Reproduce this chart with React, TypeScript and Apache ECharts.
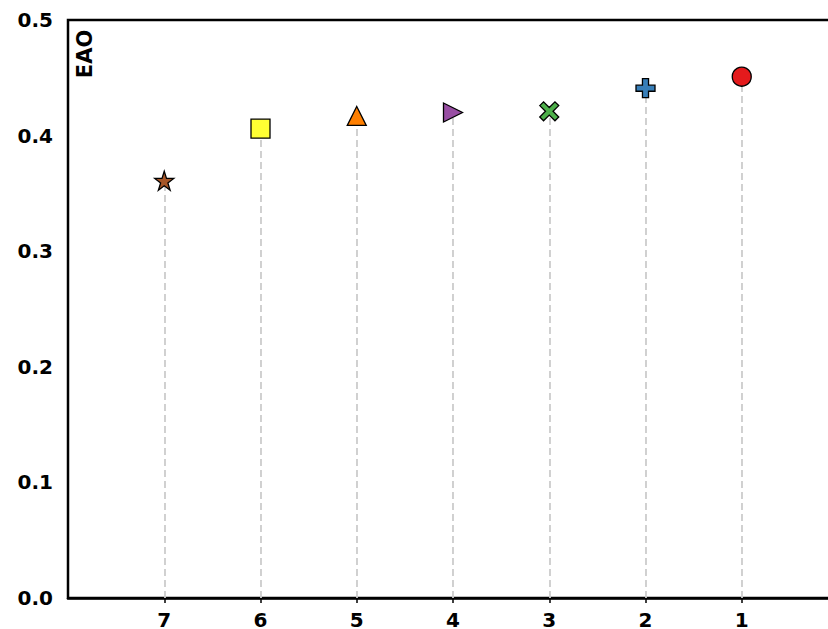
import React, { useEffect, useRef } from "react";
import * as echarts from "echarts";

const ranks = [7, 6, 5, 4, 3, 2, 1];
const eaoValues = [0.361, 0.406, 0.417, 0.42, 0.421, 0.441, 0.451];
const markerColors = ["#a65628", "#ffff33", "#ff7f00", "#984ea3", "#4daf4a", "#377eb8", "#e41a1c"];
const yTicks = [0, 0.1, 0.2, 0.3, 0.4, 0.5];

const STAR = "path://M100 0 L122.45 69.1 L195.1 69.1 L136.3 111.8 L158.8 180.9 L100 138.2 L41.2 180.9 L63.7 111.8 L4.9 69.1 L77.55 69.1 Z";
const XMARK = "path://M0 20 L20 0 L50 30 L80 0 L100 20 L70 50 L100 80 L80 100 L50 70 L20 100 L0 80 L30 50 Z";
const PLUS = "path://M34 0 L66 0 L66 34 L100 34 L100 66 L66 66 L66 100 L34 100 L34 66 L0 66 L0 34 L34 34 Z";
const RTRI = "path://M0 0 L100 50 L0 100 Z";
const markerSymbols = [STAR, "rect", "triangle", RTRI, XMARK, PLUS, "circle"];
const markerSizes = [19, 19, 19, 19, 19, 19, 19];

const FONT = "DejaVu Sans";

export default function App() {
  const ref = useRef<HTMLDivElement>(null);
  useEffect(() => {
    if (!ref.current) return;
    const chart = echarts.init(ref.current, null, { renderer: "svg" });
    const points = ranks.map((r, i) => ({
      value: [r, eaoValues[i]],
      symbol: markerSymbols[i],
      symbolSize: markerSizes[i],
      itemStyle: { color: markerColors[i], borderColor: "#000", borderWidth: 1.3, opacity: 1 },
    }));
    const stems = ranks.map((r, i) => [
      { coord: [r, 0] },
      { coord: [r, eaoValues[i]] },
    ]);
    chart.setOption({
      animation: false,
      grid: {
        left: 68,
        top: 20,
        width: 770,
        height: 578,
        outerBoundsMode: "none",
        containLabel: false,
        show: true,
        borderColor: "#000",
        borderWidth: 2.5,
        backgroundColor: "transparent",
      },
      xAxis: {
        type: "value",
        min: 0,
        max: 8,
        interval: 1,
        inverse: true,
        splitLine: { show: false },
        axisLine: { lineStyle: { color: "#000", width: 2.5 } },
        axisTick: { show: true, length: 5, customValues: ranks, lineStyle: { color: "#000", width: 1.5 } },
        axisLabel: {
          customValues: ranks,
          formatter: (v: number) => String(v),
          color: "#000",
          fontFamily: FONT,
          fontWeight: "bold",
          fontSize: 20,
          lineHeight: 16,
          margin: 14,
        },
      },
      yAxis: {
        type: "value",
        min: 0,
        max: 0.5,
        interval: 0.1,
        splitLine: { show: false },
        axisLine: { show: true, lineStyle: { color: "#000", width: 2.5 } },
        axisTick: { show: true, length: 6, customValues: yTicks, lineStyle: { color: "#000", width: 1.5 } },
        axisLabel: {
          customValues: yTicks,
          formatter: (v: number) => v.toFixed(1),
          color: "#000",
          fontFamily: FONT,
          fontWeight: "bold",
          fontSize: 20,
          margin: 15,
        },
      },
      graphic: [
        {
          type: "text",
          x: 85,
          y: 54,
          rotation: Math.PI / 2,
          style: {
            text: "EAO",
            fontFamily: FONT,
            fontWeight: "bold",
            fontSize: 21,
            fill: "#000",
            align: "center",
            verticalAlign: "middle",
          },
        },
      ],
      series: [
        {
          type: "scatter",
          data: [],
          z: 1,
          markLine: {
            silent: true,
            symbol: ["none", "none"],
            label: { show: false },
            lineStyle: { color: "#cccccc", width: 1.8, type: [7, 4] },
            data: stems,
          },
        },
        {
          type: "scatter",
          z: 5,
          data: points,
        },
      ],
    });
    return () => chart.dispose();
  }, []);
  return <div ref={ref} style={{ width: 828, height: 629, position: "absolute", left: 0, top: 0 }} />;
}
